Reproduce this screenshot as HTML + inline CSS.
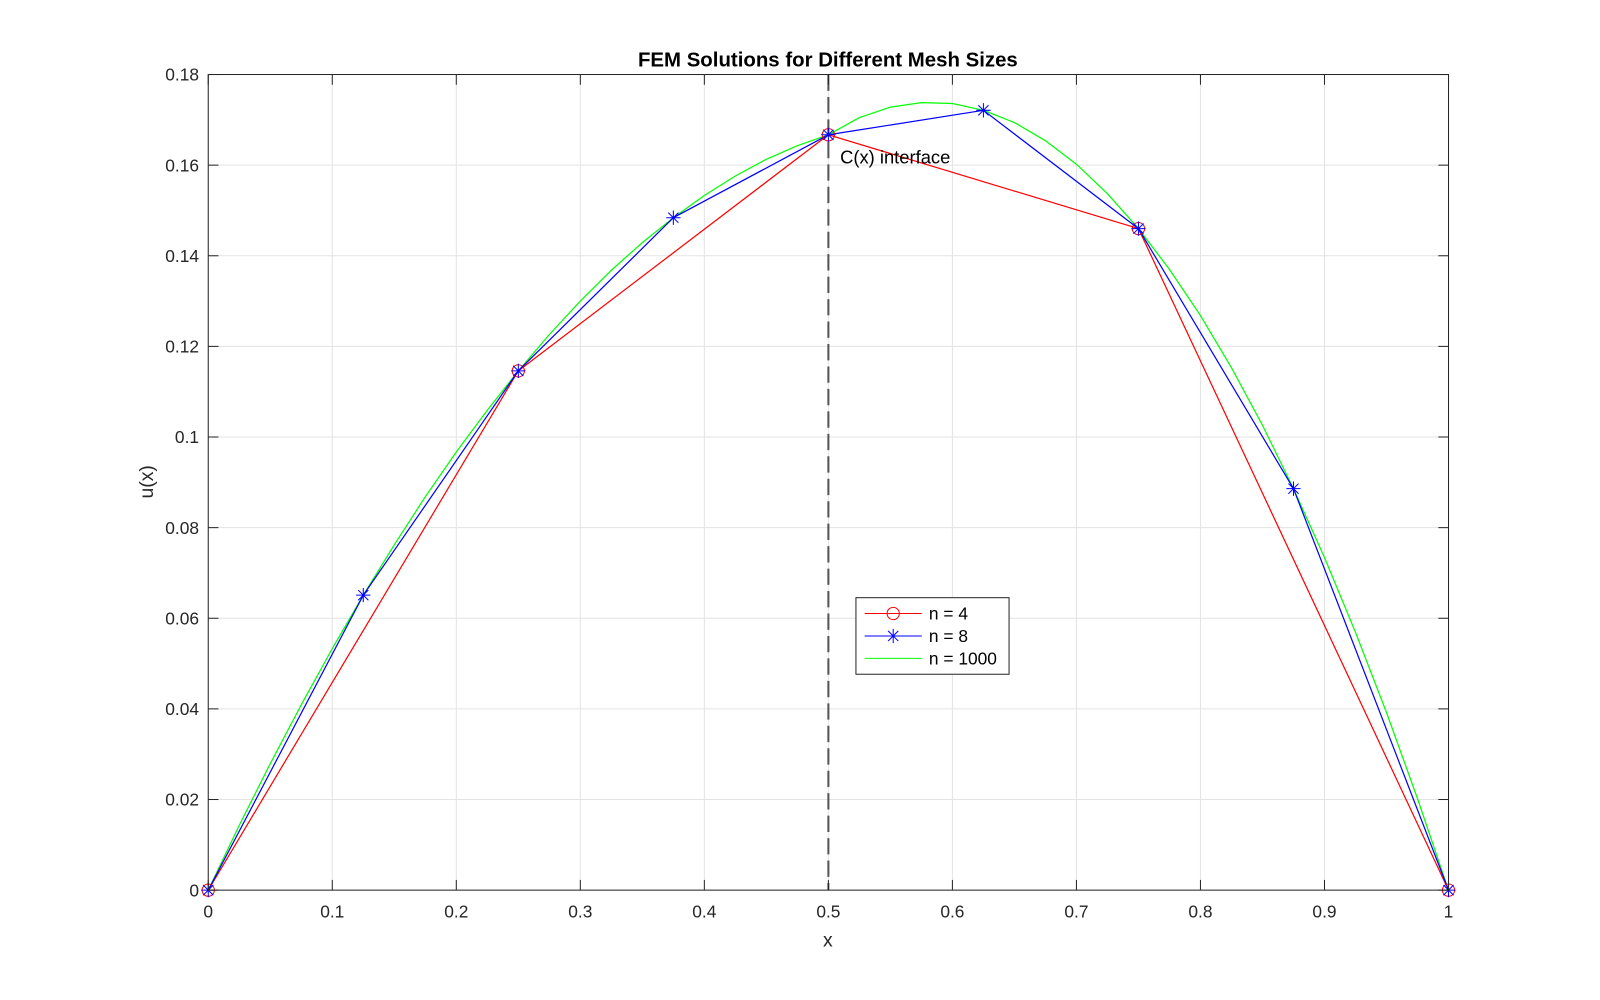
<!DOCTYPE html>
<html><head><meta charset="utf-8"><style>
body{margin:0;background:#fff;}
svg{display:block;font-family:"Liberation Sans",Arial,sans-serif;}
</style></head><body>
<svg id="chart" width="1600" height="1000" viewBox="0 0 1600 1000" xmlns="http://www.w3.org/2000/svg">
<rect width="1600" height="1000" fill="#fff"/>
<g transform="scale(1.0208)">
<g id="grid"></g>
<g id="plot"></g>
<g id="axes"></g>
<text x="811" y="65" text-anchor="middle" font-size="20" font-weight="bold" fill="#000">FEM Solutions for Different Mesh Sizes</text>
<text x="811" y="927" text-anchor="middle" font-size="19" fill="#262626">x</text>
<text transform="translate(150,472) rotate(-90)" text-anchor="middle" font-size="19" fill="#262626">u(x)</text>
<text x="823" y="160" font-size="18" fill="#000">C(x) interface</text>
<g>
<rect x="838.5" y="585.5" width="150" height="75" fill="#fff" stroke="#262626" stroke-width="1"/>
<g>
<line x1="847" y1="601" x2="903" y2="601" stroke="#f00"/><circle cx="875" cy="601" r="6" fill="none" stroke="#f00"/>
<text x="910" y="607" font-size="17" fill="#000">n = 4</text></g>
<g>
<line x1="847" y1="623" x2="903" y2="623" stroke="#00f"/>
<path d="M868,623h14M875,616v14M870,618l10,10M880,618l-10,10" stroke="#00f" fill="none"/>
<text x="910" y="629" font-size="17" fill="#000">n = 8</text></g>
<g>
<line x1="847" y1="645" x2="903" y2="645" stroke="#0f0"/>
<text x="910" y="651" font-size="17" fill="#000">n = 1000</text></g>
</g>
</g>
</svg>
<script>
const xTicks=[0,0.1,0.2,0.3,0.4,0.5,0.6,0.7,0.8,0.9,1];
const xTickLabels=["0","0.1","0.2","0.3","0.4","0.5","0.6","0.7","0.8","0.9","1"];
const yTicks=[0,0.02,0.04,0.06,0.08,0.1,0.12,0.14,0.16,0.18];
const yTickLabels=["0","0.02","0.04","0.06","0.08","0.1","0.12","0.14","0.16","0.18"];
const x4=[0,0.25,0.5,0.75,1];
const u4=[0,0.1146,0.1667,0.146,0];
const x8=[0,0.125,0.25,0.375,0.5,0.625,0.75,0.875,1];
const u8=[0,0.0651,0.1146,0.1484,0.1667,0.1721,0.146,0.0886,0];
const xFine=[0,0.025,0.05,0.075,0.1,0.125,0.15,0.175,0.2,0.225,0.25,0.275,0.3,0.325,0.35,0.375,0.4,0.425,0.45,0.475,0.5,0.525,0.55,0.575,0.6,0.625,0.65,0.675,0.7,0.725,0.75,0.775,0.8,0.825,0.85,0.875,0.9,0.925,0.95,0.975,1];
const uFine=[0,0.0143,0.0279,0.0409,0.0533,0.0651,0.0762,0.0868,0.0967,0.1059,0.1146,0.1226,0.1300,0.1368,0.1429,0.1484,0.1533,0.1576,0.1613,0.1643,0.1667,0.1705,0.1728,0.1738,0.1736,0.1721,0.1694,0.1654,0.1602,0.1537,0.1460,0.1370,0.1268,0.1153,0.1026,0.0886,0.0734,0.0569,0.0392,0.0202,0];
const interfaceX=0.5;

const L=204,R=1419,T=73,B=872,YMAX=0.18;
const sx=v=>L+v*(R-L), sy=v=>B-v/YMAX*(B-T);
const NS="http://www.w3.org/2000/svg";
function mk(tag,parent,attrs){const e=document.createElementNS(NS,tag);for(const k in attrs)e.setAttribute(k,attrs[k]);parent.appendChild(e);return e;}
const grid=document.getElementById('grid'),plot=document.getElementById('plot'),axes=document.getElementById('axes');
xTicks.forEach((v,i)=>{
  const g=mk('line',grid,{x1:sx(v),x2:sx(v),y1:T,y2:B,stroke:'#e3e3e3'});
  
  
  mk('line',axes,{x1:sx(v),x2:sx(v),y1:B,y2:B-10,stroke:'#262626'});
  mk('line',axes,{x1:sx(v),x2:sx(v),y1:T,y2:T+10,stroke:'#262626'});
  const t=mk('text',axes,{x:sx(v),y:B+27,'text-anchor':'middle','font-size':17,fill:'#262626'});
  t.textContent=xTickLabels[i];
  
  
});
yTicks.forEach((v,i)=>{
  const g=mk('line',grid,{x1:L,x2:R,y1:sy(v),y2:sy(v),stroke:'#e3e3e3'});
  
  
  mk('line',axes,{x1:L,x2:L+10,y1:sy(v),y2:sy(v),stroke:'#262626'});
  mk('line',axes,{x1:R,x2:R-10,y1:sy(v),y2:sy(v),stroke:'#262626'});
  const t=mk('text',axes,{x:L-9,y:sy(v)+6,'text-anchor':'end','font-size':17,fill:'#262626'});
  t.textContent=yTickLabels[i];
  
  
});
const box=mk('rect',axes,{x:L,y:T,width:R-L,height:B-T,fill:'none',stroke:'#262626'});


const il=mk('line',plot,{x1:sx(interfaceX),x2:sx(interfaceX),y1:T,y2:B,stroke:'#555','stroke-width':2,'stroke-dasharray':'16 6'});


function line(xs,us,color,name){
  const p=mk('polyline',plot,{points:xs.map((x,i)=>sx(x)+','+sy(us[i])).join(' '),fill:'none',stroke:color,'stroke-width':1.2,'stroke-linejoin':'round'});
  
  
}
line(xFine,uFine,'#0f0','series-n1000');
line(x4,u4,'#f00','series-n4');
line(x8,u8,'#00f','series-n8');
x4.forEach((x,i)=>{
  const c=mk('circle',plot,{cx:sx(x),cy:sy(u4[i]),r:6,fill:'none',stroke:'#f00'});
  
  
});
x8.forEach((x,i)=>{
  const X=sx(x),Y=sy(u8[i]);
  const p=mk('path',plot,{d:`M${X-7},${Y}h14M${X},${Y-7}v14M${X-5},${Y-5}l10,10M${X+5},${Y-5}l-10,10`,stroke:'#00f',fill:'none'});
  
  
});
</script>
</body></html>
